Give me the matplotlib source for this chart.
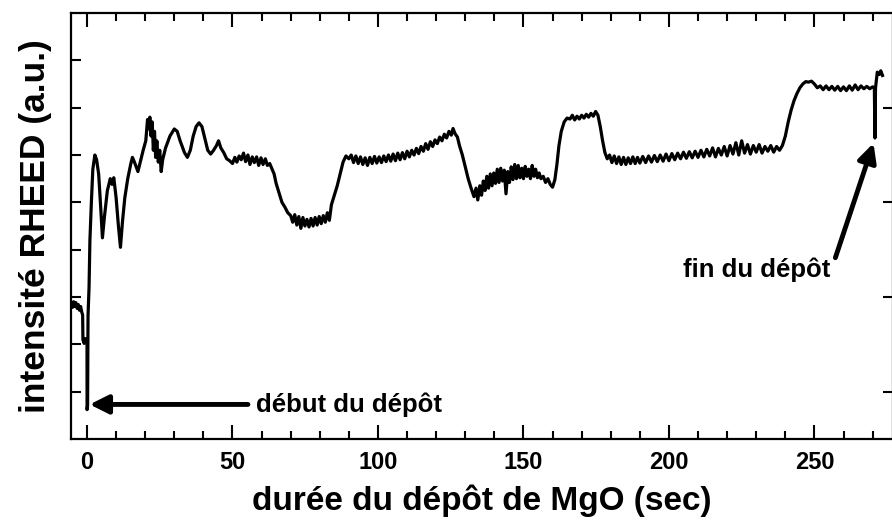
import matplotlib
matplotlib.use("Agg")
import matplotlib.pyplot as plt
from matplotlib.ticker import MultipleLocator

plt.rcParams['font.family'] = ['Liberation Sans', 'DejaVu Sans']
plt.rcParams['font.weight'] = 'bold'

# temps (s) et intensite RHEED (u.a.)
t_start = [-5.5, -5.0, -4.6, -4.2, -3.8, -3.4, -3.0, -2.6, -2.2, -1.8, -1.5, -1.4, -1.0, -0.6, -0.3, 0.0,
           0.02, 0.2, 0.35, 0.7, 1.0, 1.5, 2.0, 2.7, 3.3, 4.0, 4.7, 5.3, 6.0, 7.0, 8.0, 8.6, 9.2, 10.0,
           10.8, 11.5, 12.2, 13.0, 14.0, 15.0, 15.6, 16.3, 17.5, 18.5, 19.3, 20.2, 20.8, 21.2, 21.6,
           22.0, 22.4, 22.8, 23.2, 23.6, 24.0, 24.5, 25.0, 25.5, 26.0, 27.0, 28.5, 30.0, 31.0, 32.0,
           33.5, 34.5, 35.5, 36.5, 37.5, 38.5, 39.5, 40.5, 41.5, 42.5, 43.5, 44.5, 45.2, 46.0, 47.0,
           48.0, 49.0, 50.0]
i_start = [1.88, 1.78, 1.90, 1.80, 1.88, 1.76, 1.84, 1.72, 1.80, 1.68, 1.62, 1.10, 1.02, 1.12, 1.05, 1.08,
           -0.38, -0.30, 1.60, 2.20, 3.20, 4.00, 4.70, 5.00, 4.90, 4.60, 3.90, 3.25, 3.70, 4.25, 4.50, 4.38,
           4.52, 4.10, 3.50, 3.05, 3.60, 4.10, 4.50, 4.80, 4.95, 4.85, 4.65, 4.90, 5.10, 5.30, 5.75, 5.55,
           5.80, 5.40, 5.70, 5.10, 5.50, 4.95, 5.30, 4.85, 5.10, 4.65, 4.90, 5.15, 5.40, 5.55, 5.50, 5.30,
           5.05, 4.95, 5.10, 5.40, 5.60, 5.68, 5.60, 5.35, 5.10, 5.02, 5.10, 5.20, 5.30, 5.15, 5.05, 4.92,
           4.88, 4.82]

t_mid = [50.8, 51.5, 52.3, 53.0, 53.8, 54.5, 55.3, 56.0, 56.8, 57.5, 58.3, 59.0, 59.8, 60.5, 61.3, 62.0,
         62.8, 63.5, 64.3, 65.0, 66.0, 67.0, 68.0, 69.0, 70.0, 70.7, 71.4, 72.1, 72.8, 73.5, 74.2, 74.9,
         75.6, 76.3, 77.0, 77.7, 78.4, 79.1, 79.8, 80.5, 81.2, 81.9, 82.6, 83.3, 84.0, 85.0, 86.0, 87.0,
         88.0, 89.0, 90.0, 90.8, 91.6, 92.4, 93.2, 94.0, 94.8, 95.6, 96.4, 97.2, 98.0, 98.8, 99.6, 100.4,
         101.2, 102.0, 102.8, 103.6, 104.4, 105.2, 106.0, 106.8, 107.6, 108.4, 109.2, 110.0, 110.8,
         111.6, 112.4, 113.2, 114.0, 114.8, 115.6, 116.4, 117.2, 118.0, 118.8, 119.6, 120.4, 121.2,
         122.0, 122.8, 123.6, 124.4, 125.2, 125.8, 126.5, 127.3, 128.0, 129.0, 130.0, 131.0, 132.0]
i_mid = [4.95, 4.85, 4.98, 4.90, 5.04, 4.86, 5.00, 4.80, 4.96, 4.84, 4.96, 4.78, 4.94, 4.80, 4.92, 4.78,
         4.82, 4.72, 4.60, 4.40, 4.20, 4.00, 3.90, 3.78, 3.72, 3.58, 3.74, 3.52, 3.70, 3.45, 3.68, 3.50,
         3.64, 3.48, 3.66, 3.50, 3.68, 3.52, 3.70, 3.55, 3.72, 3.58, 3.78, 3.62, 3.95, 4.15, 4.35, 4.60,
         4.85, 4.98, 4.92, 5.00, 4.84, 4.98, 4.82, 4.96, 4.80, 4.94, 4.78, 4.95, 4.82, 4.97, 4.83, 4.96,
         4.84, 4.98, 4.86, 5.00, 4.87, 5.02, 4.88, 5.04, 4.90, 5.05, 4.92, 5.08, 4.96,
         5.10, 5.00, 5.14, 5.03, 5.18, 5.08, 5.24, 5.12, 5.28, 5.18, 5.32, 5.24, 5.38,
         5.30, 5.44, 5.36, 5.50, 5.42, 5.56, 5.45, 5.38, 5.20, 5.00, 4.75, 4.50, 4.30]

t_bump = [133.0, 133.7, 134.3, 135.0, 135.6, 136.2, 136.8, 137.4, 138.0, 138.6, 139.2, 139.8, 140.4,
          141.0, 141.6, 142.2, 142.8, 143.4, 144.0, 144.6, 145.2, 145.8, 146.4, 147.0, 147.6, 148.2,
          148.8, 149.4, 150.0, 150.6, 151.2, 151.8, 152.4, 153.0, 153.6, 154.2, 154.8, 155.4, 156.0,
          156.8, 157.6, 158.4, 159.2, 160.0, 160.8, 161.5, 162.2, 163.0, 164.0, 165.0, 166.0, 166.8,
          167.6, 168.4, 169.2, 170.0, 170.8, 171.6, 172.4, 173.2, 174.0, 174.8, 175.6, 176.4, 177.2,
          178.0, 178.8, 179.6, 180.4, 181.2, 182.0, 182.8, 183.6, 184.4, 185.2, 186.0, 186.8]
i_bump = [4.12, 4.30, 4.05, 4.35, 4.15, 4.45, 4.25, 4.55, 4.30, 4.60, 4.35, 4.62, 4.40,
          4.70, 4.42, 4.72, 4.45, 4.68, 4.18, 4.65, 4.42, 4.75, 4.48, 4.80, 4.50, 4.78,
          4.52, 4.72, 4.50, 4.76, 4.55, 4.70, 4.50, 4.78, 4.55, 4.70, 4.52, 4.62, 4.50,
          4.55, 4.42, 4.50, 4.38, 4.32, 4.48, 4.80, 5.20, 5.50, 5.70, 5.78, 5.76, 5.84,
          5.74, 5.82, 5.76, 5.84, 5.78, 5.86, 5.80, 5.88, 5.82, 5.92, 5.84, 5.60, 5.30,
          5.05, 4.92, 5.00, 4.84, 4.98, 4.82, 4.96, 4.80, 4.95, 4.80, 4.94, 4.82]

t_end = [187.6, 188.4, 189.2, 190.0, 191.0, 192.0, 193.0, 194.0, 195.0, 196.0, 197.0, 198.0, 199.0,
         200.0, 201.0, 202.0, 203.0, 204.0, 205.0, 206.0, 207.0, 208.0, 209.0, 210.0, 211.0, 212.0,
         213.0, 214.0, 215.0, 216.0, 217.0, 218.0, 219.0, 220.0, 221.0, 222.0, 223.0, 224.0, 225.0,
         226.0, 227.0, 228.0, 229.0, 230.0, 231.0, 232.0, 233.0, 234.0, 235.0, 236.0, 237.0, 238.0,
         239.0, 240.0, 241.0, 242.0, 243.0, 244.0, 245.0, 246.0, 247.0, 248.0, 249.0, 250.0, 251.0,
         252.0, 253.0, 254.0, 255.0, 256.0, 257.0, 258.0, 259.0, 260.0, 261.0, 262.0, 263.0, 264.0,
         265.0, 266.0, 267.0, 268.0, 269.0, 270.0, 270.6, 270.8, 271.0, 271.6, 272.3, 272.8, 273.4]
i_end = [4.96, 4.82, 4.95, 4.83, 4.97, 4.84, 4.98, 4.85, 4.99, 4.86, 5.00, 4.87, 5.02,
         4.88, 5.03, 4.90, 5.04, 4.92, 5.06, 4.93, 5.07, 4.94, 5.08, 4.95, 5.10, 4.96,
         5.12, 4.98, 5.15, 4.96, 5.14, 5.00, 5.18, 4.98, 5.20, 5.02, 5.26, 5.00, 5.30,
         5.04, 5.22, 5.02, 5.20, 5.06, 5.22, 5.04, 5.18, 5.08, 5.20, 5.06, 5.18, 5.10,
         5.20, 5.40, 5.70, 5.95, 6.15, 6.30, 6.42, 6.50, 6.55, 6.54, 6.56, 6.50, 6.42,
         6.46, 6.38, 6.46, 6.38, 6.45, 6.37, 6.45, 6.36, 6.44, 6.36, 6.46, 6.37, 6.48,
         6.38, 6.46, 6.40, 6.45, 6.40, 6.44, 6.42, 5.36, 6.42, 6.75, 6.70, 6.78, 6.68]

temps = t_start + t_mid + t_bump + t_end
intensite = i_start + i_mid + i_bump + i_end

fig = plt.figure(figsize=(8.92, 5.27), dpi=100)
ax = fig.add_axes([0.0796, 0.167, 0.9215, 0.8083])

ax.plot(temps, intensite, color='black', lw=2.3)

ax.set_xlim(-5.5, 277)
ax.set_ylim(-1, 8)

ax.xaxis.set_major_locator(MultipleLocator(50))
ax.xaxis.set_minor_locator(MultipleLocator(10))
ax.set_yticks(range(8))
ax.set_yticklabels([])
ax.tick_params(axis='x', which='major', direction='in', top=True, length=10, width=1.5,
               labelsize=17, pad=9)
ax.tick_params(axis='x', which='minor', direction='in', top=True, length=6, width=1.5)
ax.tick_params(axis='y', direction='in', left=True, right=False, length=7, width=1.5)
for s in ax.spines.values():
    s.set_linewidth(1.6)

sec = ax.secondary_yaxis('right')
sec.set_yticks([0, 2, 4, 6])
sec.set_yticklabels([])
sec.tick_params(direction='in', length=7, width=1.5)

ax.set_xlabel('durée du dépôt de MgO (sec)', fontsize=24, fontweight='bold', labelpad=7)
ax.set_ylabel('intensité RHEED (a.u.)', fontsize=25.5, fontweight='bold', labelpad=10)

ax.annotate('', xy=(0.9, -0.27), xytext=(55.3, -0.27),
            arrowprops=dict(arrowstyle='-|>', lw=3.5, mutation_scale=28, color='black',
                            shrinkA=0, shrinkB=0))
ax.text(58.2, -0.27, 'début du dépôt', fontsize=18.5, fontweight='bold', va='center', ha='left')

ax.annotate('', xy=(270.3, 5.25), xytext=(257.2, 2.83),
            arrowprops=dict(arrowstyle='-|>', lw=3.5, mutation_scale=28, color='black',
                            shrinkA=0, shrinkB=0))
ax.text(204.9, 2.57, 'fin du dépôt', fontsize=18.5, fontweight='bold', va='center', ha='left')

fig.savefig('out.png', dpi=100)
